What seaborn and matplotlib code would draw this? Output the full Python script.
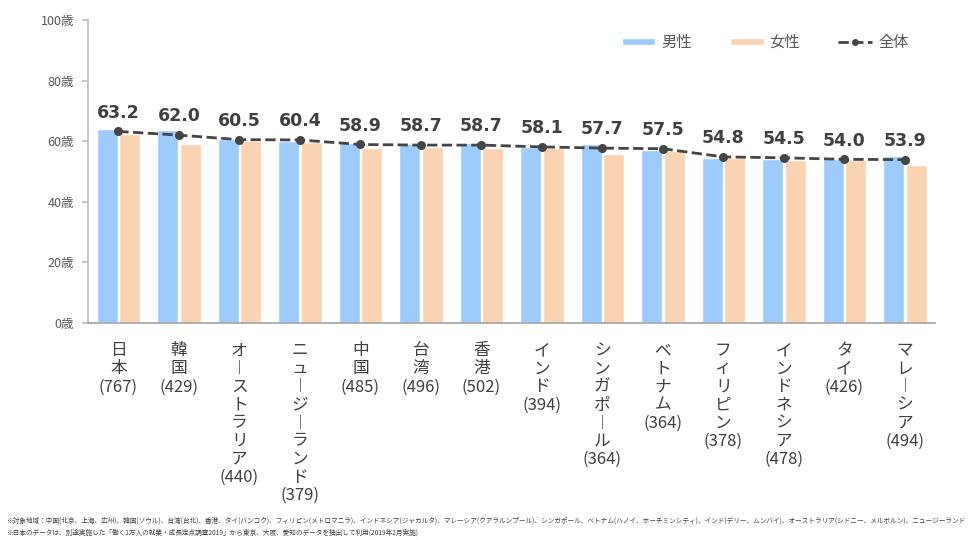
import numpy as np
import pandas as pd
import seaborn as sns
import matplotlib.pyplot as plt
from matplotlib.patches import Patch
from matplotlib.lines import Line2D

countries = ['日本', '韓国', 'オーストラリア', 'ニュージーランド', '中国', '台湾', '香港',
             'インド', 'シンガポール', 'ベトナム', 'フィリピン', 'インドネシア', 'タイ', 'マレーシア']
sample_sizes = [767, 429, 440, 379, 485, 496, 502, 394, 364, 364, 378, 478, 426, 494]
male = [64.0, 63.8, 60.7, 60.2, 59.4, 59.1, 59.4, 58.1, 59.1, 57.2, 54.5, 54.2, 54.2, 55.0]
female = [62.4, 59.1, 60.2, 59.8, 57.8, 58.0, 57.8, 57.8, 55.6, 56.7, 54.3, 53.9, 53.7, 52.0]
total = [63.2, 62.0, 60.5, 60.4, 58.9, 58.7, 58.7, 58.1, 57.7, 57.5, 54.8, 54.5, 54.0, 53.9]
y_ticks = [0, 20, 40, 60, 80, 100]

notes = [
    '※対象地域：中国(北京、上海、広州)、韓国(ソウル)、台湾(台北)、香港、タイ(バンコク)、フィリピン(メトロマニラ)、'
    'インドネシア(ジャカルタ)、マレーシア(クアラルンプール)、シンガポール、ベトナム(ハノイ、ホーチミンシティ)、'
    'インド(デリー、ムンバイ)、オーストラリア(シドニー、メルボルン)、ニュージーランド',
    '※日本のデータは、別途実施した「働く1万人の就業・成長定点調査2019」から東京、大阪、愛知のデータを抽出して利用(2019年2月実施)',
]

MALE_C = '#9DCBFB'
FEMALE_C = '#FAD3B3'
LINE_C = '#454545'
TEXT_C = '#595959'

sns.set_theme(style='white')
plt.rcParams['font.family'] = ['Noto Sans CJK JP', 'DejaVu Sans']

df = pd.DataFrame({
    'country': countries * 2,
    'sex': ['男性'] * len(countries) + ['女性'] * len(countries),
    'age': male + female,
})

fig = plt.figure(figsize=(9.68, 5.4), dpi=100)
ax = fig.add_axes([0.091, 0.402, 0.875, 0.561])

sns.barplot(data=df, x='country', y='age', hue='sex', order=countries,
            palette={'男性': MALE_C, '女性': FEMALE_C}, width=0.74, gap=0.06,
            saturation=1, legend=False, ax=ax)

sns.pointplot(x=countries, y=total, order=countries, color=LINE_C,
              linestyles='--', markers='o', markersize=5, linewidth=2, ax=ax)

for i, v in enumerate(total):
    ax.annotate(f'{v:.1f}', (i, v), xytext=(0, 7), textcoords='offset points',
                ha='center', va='bottom', fontsize=12.5, fontweight='bold',
                color='#404040', family=['DejaVu Sans'])

ax.set_ylim(0, 100)
ax.set_xlim(-0.5, len(countries) - 0.5)
ax.set_yticks(y_ticks)
ax.set_yticklabels([f'{t}歳' for t in y_ticks], fontsize=9, color=TEXT_C)

def vertical(name):
    # long vowel mark stands upright in vertical writing
    return '\n'.join('︱' if ch == 'ー' else ch for ch in name)

ax.set_xticks(range(len(countries)))
ax.set_xticklabels([f'{vertical(c)}\n({n})' for c, n in zip(countries, sample_sizes)],
                   fontsize=12, color='#404040', va='top', linespacing=1.08)
ax.tick_params(axis='x', length=0, pad=14)
ax.tick_params(axis='y', length=4, color='#BFBFBF', left=True, pad=6)

ax.set_xlabel('')
ax.set_ylabel('')
for side in ['top', 'right']:
    ax.spines[side].set_visible(False)
ax.spines['left'].set_color('#BFBFBF')
ax.spines['bottom'].set_color('#A6A6A6')

handles = [
    Patch(facecolor=MALE_C, label='男性'),
    Patch(facecolor=FEMALE_C, label='女性'),
    Line2D([0], [0], color=LINE_C, linestyle='--', marker='o', markersize=4, linewidth=2, label='全体'),
]
leg = ax.legend(handles=handles, ncol=3, loc='upper right', bbox_to_anchor=(0.985, 1.0),
                frameon=False, fontsize=11, handlelength=2.2, handleheight=0.35,
                columnspacing=2.5, handletextpad=0.4)
for t in leg.get_texts():
    t.set_color(TEXT_C)

fig.text(0.006, 0.036, notes[0], fontsize=4.8, color='#404040', ha='left', va='center')
fig.text(0.006, 0.014, notes[1], fontsize=4.8, color='#404040', ha='left', va='center')

fig.savefig('out.png', dpi=100)
